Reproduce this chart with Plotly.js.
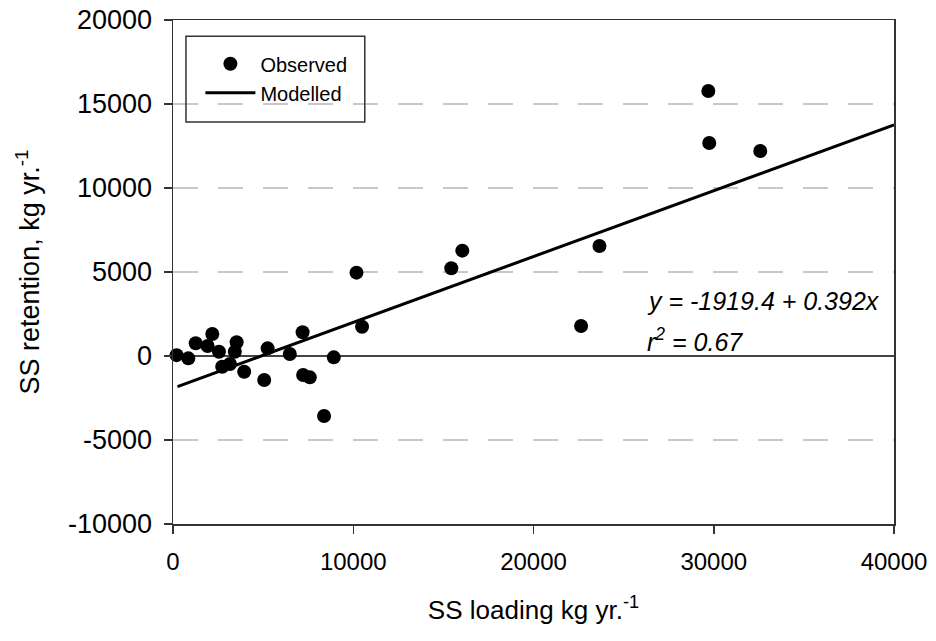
<!DOCTYPE html>
<html>
<head>
<meta charset="utf-8">
<script src="https://cdn.plot.ly/plotly-3.0.1.min.js"></script>
<style>
  html, body { margin: 0; padding: 0; background: #ffffff; }
  #chart { width: 936px; height: 641px; }
</style>
</head>
<body>
<div id="chart"></div>
<script>
// Observed data (SS loading vs SS retention, kg/yr)
const obsLoading = [200, 850, 1260, 1920, 2180, 2550, 2730, 3160, 3530, 3430, 3950, 5060, 5250, 6480, 7190, 7220, 7590, 8920, 8380, 10490, 10180, 15440, 16050, 22640, 23660, 29700, 29750, 32580];
const obsRetention = [50, -140, 755, 595, 1310, 256, -637, -476, 815, 256, -935, -1430, 455, 120, 1410, -1130, -1270, -80, -3570, 1740, 4960, 5220, 6270, 1790, 6550, 15770, 12680, 12200];

// Modelled line end points
const modelLoading = [250, 40000];
const modelRetention = [-1820, 13760];

// Axis ticks
const xTicks = [0, 10000, 20000, 30000, 40000];
const yTicks = [-10000, -5000, 0, 5000, 10000, 15000, 20000];

const equationText = "y = -1919.4 + 0.392x";
const r2Text = "r<sup>2</sup> = 0.67";

const FONT = "Liberation Sans, Arial, Helvetica, sans-serif";

const traces = [
  {
    x: obsLoading, y: obsRetention, type: "scatter", mode: "markers",
    name: "Observed",
    marker: { color: "#000000", size: 14, symbol: "circle" },
    cliponaxis: false
  },
  {
    x: modelLoading, y: modelRetention, type: "scatter", mode: "lines",
    name: "Modelled",
    line: { color: "#000000", width: 3 }
  }
];

const layout = {
  width: 936, height: 641,
  margin: { l: 173, r: 42, t: 20, b: 117 },
  paper_bgcolor: "#ffffff", plot_bgcolor: "#ffffff",
  font: { family: FONT, color: "#000000", size: 20 },
  showlegend: true,
  legend: {
    x: 0.038, y: 0.952, xanchor: "left", yanchor: "top",
    bgcolor: "rgba(0,0,0,0)", borderwidth: 0,
    itemwidth: 50,
    font: { family: FONT, size: 20, color: "#000000" },
    tracegroupgap: 0
  },
  xaxis: {
    range: [0, 40000], tickvals: xTicks, ticktext: xTicks.map(String),
    ticks: "outside", ticklen: 8, tickwidth: 1.5, tickcolor: "#333333",
    showline: true, linecolor: "#333333", linewidth: 1.5, mirror: true,
    showgrid: false, zeroline: false,
    tickfont: { family: FONT, size: 24, color: "#000000" },
    ticklabelstandoff: 8,
    title: { text: "SS loading kg yr.<sup>-1</sup>", font: { family: FONT, size: 26, color: "#000000" }, standoff: 26 }
  },
  yaxis: {
    range: [-10000, 20000], tickvals: yTicks, ticktext: yTicks.map(String),
    ticks: "outside", ticklen: 8, tickwidth: 1.5, tickcolor: "#333333",
    showline: true, linecolor: "#333333", linewidth: 1.5, mirror: true,
    showgrid: true, gridcolor: "#c8c8c8", gridwidth: 1.2, griddash: "25px,20px",
    zeroline: true, zerolinecolor: "#444444", zerolinewidth: 1.5,
    tickfont: { family: FONT, size: 27, color: "#000000" },
    ticklabelstandoff: 6,
    title: { text: "SS retention, kg yr.<sup>-1</sup>", font: { family: FONT, size: 27, color: "#000000" }, standoff: 20 }
  },
  shapes: [
    { type: "rect", xref: "paper", yref: "paper",
      x0: 0.018, x1: 0.266, y0: 0.7976, y1: 0.968,
      line: { color: "#333333", width: 1.5 }, fillcolor: "rgba(0,0,0,0)" }
  ],
  annotations: [
    { text: "<i>" + equationText + "</i>", x: 26200, y: 3270, xref: "x", yref: "y",
      xanchor: "left", yanchor: "middle", showarrow: false,
      font: { family: FONT, size: 25, color: "#000000" } },
    { text: "<i>" + r2Text + "</i>", x: 26200, y: 950, xref: "x", yref: "y",
      xanchor: "left", yanchor: "middle", showarrow: false,
      font: { family: FONT, size: 25, color: "#000000" } }
  ]
};

Plotly.newPlot("chart", traces, layout, { displayModeBar: false, staticPlot: true });
</script>
</body>
</html>
